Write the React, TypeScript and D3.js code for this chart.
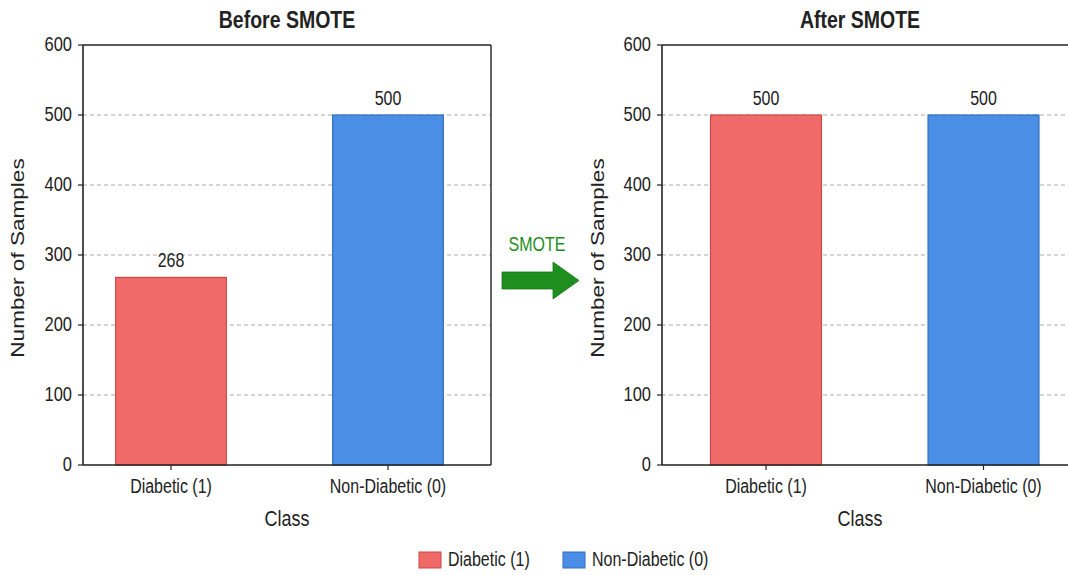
import React from "react";
import * as d3 from "d3";

const categories = ["Diabetic (1)", "Non-Diabetic (0)"];
const beforeValues = [268, 500];
const afterValues = [500, 500];
const yTickValues = [0, 100, 200, 300, 400, 500, 600];
const gridValues = [100, 200, 300, 400, 500];
const panelTitles = ["Before SMOTE", "After SMOTE"];
const arrowLabel = "SMOTE";
const xAxisTitle = "Class";
const yAxisTitle = "Number of Samples";

const W = 1068;
const H = 575;
const SY = 1.22;
const FONT = "'Liberation Sans', Arial, Helvetica, sans-serif";
const RED = "#F16A6A";
const RED_STROKE = "#CF4848";
const BLUE = "#4A8FE5";
const BLUE_STROKE = "#2F6FC0";
const GREEN = "#1E8E1E";
const AXIS = "#222";

const colors = [RED, BLUE];
const strokes = [RED_STROKE, BLUE_STROKE];

function T({ x, y, anchor = "middle", size = 16, weight = "normal", fill = "#222", rotate = 0, children }: any) {
  return (
    <text
      transform={`translate(${x},${y}) scale(1,${SY})${rotate ? ` rotate(${rotate})` : ""}`}
      textAnchor={anchor}
      fontSize={size}
      fontWeight={weight}
      fill={fill}
      fontFamily={FONT}
    >
      {children}
    </text>
  );
}

const yTop = 45;
const yBottom = 465;
const y = d3.scaleLinear().domain([0, 600]).range([yBottom, yTop]);

function Panel({ values, title, axisLeft, axisRight, c1, c2, titleX, yLabelX }: any) {
  const step = c2 - c1;
  const x = d3
    .scaleBand<string>()
    .domain(categories)
    .range([c1 - step / 2, c2 + step / 2])
    .paddingInner(0.49)
    .paddingOuter(0.245);
  const bw = x.bandwidth();
  return (
    <g>
      <T x={titleX} y={28} size={19.5} weight="bold">{title}</T>
      {gridValues.map((v) => (
        <line key={v} x1={axisLeft} x2={axisRight} y1={y(v)} y2={y(v)} stroke="#aaaaaa" strokeWidth={1} strokeDasharray="4,3" />
      ))}
      {categories.map((c, i) => (
        <rect
          key={c}
          x={x(c)}
          y={y(values[i])}
          width={bw}
          height={y(0) - y(values[i])}
          fill={colors[i]}
          stroke={strokes[i]}
          strokeWidth={1.2}
        />
      ))}
      {categories.map((c, i) => (
        <T key={c} x={(x(c) as number) + bw / 2} y={y(values[i]) - 10} size={16}>{String(values[i])}</T>
      ))}
      <line x1={axisLeft} x2={axisRight} y1={yTop} y2={yTop} stroke={AXIS} strokeWidth={1.4} />
      <line x1={axisRight} x2={axisRight} y1={yTop} y2={yBottom} stroke={AXIS} strokeWidth={1.4} />
      <line x1={axisLeft} x2={axisRight} y1={yBottom} y2={yBottom} stroke={AXIS} strokeWidth={1.6} />
      <line x1={axisLeft} x2={axisLeft} y1={yTop} y2={yBottom} stroke={AXIS} strokeWidth={1.6} />
      {yTickValues.map((v) => (
        <g key={v}>
          <line x1={axisLeft - 5} x2={axisLeft} y1={y(v)} y2={y(v)} stroke={AXIS} strokeWidth={1.2} />
          <T x={axisLeft - 11} y={y(v) + 6} anchor="end" size={16.5}>{String(v)}</T>
        </g>
      ))}
      {categories.map((c) => (
        <g key={c}>
          <line x1={(x(c) as number) + bw / 2} x2={(x(c) as number) + bw / 2} y1={yBottom} y2={yBottom + 5} stroke={AXIS} strokeWidth={1.2} />
          <T x={(x(c) as number) + bw / 2} y={493} size={16}>{c}</T>
        </g>
      ))}
      <T x={titleX} y={526} size={18}>{xAxisTitle}</T>
      <T x={yLabelX} y={258} size={18.5} rotate={-90}>{yAxisTitle}</T>
    </g>
  );
}

export default function App() {
  return (
    <svg width={W} height={H} style={{ position: "absolute", left: 0, top: 0, background: "#fff" }}>
      <rect x={0} y={0} width={W} height={H} fill="#fff" />
      <Panel values={beforeValues} title={panelTitles[0]} axisLeft={83} axisRight={491} c1={171} c2={388} titleX={287} yLabelX={24} />
      <Panel values={afterValues} title={panelTitles[1]} axisLeft={662} axisRight={1090} c1={766} c2={983.5} titleX={860} yLabelX={604} />
      <T x={537} y={251} size={16} fill={GREEN} weight={500}>{arrowLabel}</T>
      <path d="M502,272 L553,272 L553,262 L579,280.5 L553,299 L553,289 L502,289 Z" fill={GREEN} stroke="#187818" strokeWidth={0.8} />
      {categories.map((c, i) => {
        const lx = [419, 563][i];
        return (
          <g key={c}>
            <rect x={lx} y={552} width={22} height={16} fill={colors[i]} stroke={strokes[i]} strokeWidth={1} />
            <T x={lx + 29} y={566} anchor="start" size={16}>{c}</T>
          </g>
        );
      })}
    </svg>
  );
}
